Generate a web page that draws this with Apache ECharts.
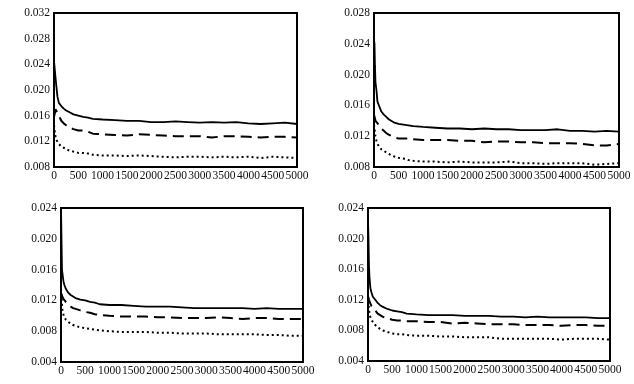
<!DOCTYPE html>
<html><head><meta charset="utf-8">
<script src="https://cdn.jsdelivr.net/npm/echarts@6/dist/echarts.min.js"></script>
<style>html,body{margin:0;padding:0;background:#fff}#c{width:634px;height:384px}</style>
</head><body><div id="c"></div>
<script>
const xs = [0,10,20,30,50,70,100,150,200,250,300,400,500,600,700,800,1000,1250,1500,1750,2000,2250,2500,2750,3000,3250,3500,3750,4000,4250,4500,4750,5000];
const xTicks = [0,500,1000,1500,2000,2500,3000,3500,4000,4500,5000];

const p1Solid  = [0.0245,0.0237,0.0235,0.0220,0.0205,0.0190,0.0180,0.0175,0.0171,0.0168,0.0166,0.0162,0.0160,0.0158,0.0157,0.0155,0.0154,0.0153,0.0152,0.0152,0.0150,0.0150,0.0151,0.0150,0.0149,0.0150,0.0149,0.0150,0.0148,0.0147,0.0148,0.0149,0.0147];
const p1Dashed = [0.0158,0.0160,0.0165,0.0170,0.0172,0.0165,0.0160,0.0152,0.0148,0.0145,0.0142,0.0139,0.0137,0.0137,0.0135,0.0132,0.0131,0.0130,0.0129,0.0131,0.0130,0.0129,0.0128,0.0128,0.0128,0.0126,0.0128,0.0128,0.0127,0.0126,0.0127,0.0127,0.0126];
const p1Dotted = [0.0145,0.0140,0.0133,0.0128,0.0122,0.0119,0.0116,0.0112,0.0110,0.0108,0.0106,0.0104,0.0102,0.0102,0.0101,0.0099,0.0098,0.0098,0.0097,0.0098,0.0097,0.0096,0.0095,0.0096,0.0096,0.0095,0.0096,0.0095,0.0096,0.0094,0.0096,0.0095,0.0094];

const p2Solid  = [0.0245,0.0240,0.0210,0.0190,0.0180,0.0165,0.0160,0.0152,0.0148,0.0145,0.0142,0.0138,0.0136,0.0135,0.0134,0.0133,0.0132,0.0131,0.0130,0.0130,0.0129,0.0130,0.0129,0.0129,0.0128,0.0128,0.0128,0.0129,0.0127,0.0127,0.0126,0.0127,0.0126];
const p2Dashed = [0.0148,0.0146,0.0143,0.0140,0.0138,0.0137,0.0134,0.0130,0.0127,0.0124,0.0122,0.0119,0.0117,0.0117,0.0117,0.0116,0.0115,0.0115,0.0115,0.0114,0.0114,0.0112,0.0113,0.0113,0.0112,0.0112,0.0111,0.0111,0.0111,0.0110,0.0108,0.0108,0.0110];
const p2Dotted = [0.0135,0.0130,0.0125,0.0120,0.0114,0.0110,0.0107,0.0103,0.0101,0.0099,0.0097,0.0094,0.0092,0.0091,0.0089,0.0088,0.0087,0.0087,0.0086,0.0087,0.0086,0.0086,0.0086,0.0087,0.0085,0.0085,0.0084,0.0085,0.0085,0.0085,0.0083,0.0084,0.0085];

const p3Solid  = [0.0240,0.0200,0.0160,0.0155,0.0145,0.0140,0.0135,0.0130,0.0127,0.0125,0.0123,0.0121,0.0120,0.0118,0.0117,0.0115,0.0114,0.0114,0.0113,0.0112,0.0112,0.0112,0.0111,0.0110,0.0110,0.0110,0.0110,0.0110,0.0109,0.0110,0.0109,0.0109,0.0109];
const p3Dashed = [0.0130,0.0128,0.0126,0.0125,0.0122,0.0120,0.0118,0.0115,0.0112,0.0110,0.0109,0.0107,0.0105,0.0104,0.0102,0.0101,0.0100,0.0099,0.0099,0.0099,0.0098,0.0098,0.0097,0.0097,0.0097,0.0098,0.0097,0.0096,0.0097,0.0097,0.0096,0.0096,0.0096];
const p3Dotted = [0.0135,0.0125,0.0115,0.0108,0.0102,0.0098,0.0095,0.0092,0.0090,0.0088,0.0087,0.0085,0.0084,0.0083,0.0082,0.0081,0.0080,0.0079,0.0079,0.0079,0.0078,0.0078,0.0077,0.0077,0.0077,0.0076,0.0076,0.0076,0.0076,0.0075,0.0075,0.0074,0.0074];

const p4Solid  = [0.0225,0.0200,0.0165,0.0150,0.0135,0.0130,0.0124,0.0120,0.0116,0.0113,0.0111,0.0108,0.0106,0.0105,0.0104,0.0102,0.0101,0.0100,0.0100,0.0100,0.0099,0.0099,0.0099,0.0098,0.0098,0.0097,0.0098,0.0097,0.0097,0.0097,0.0097,0.0096,0.0096];
const p4Dashed = [0.0125,0.0123,0.0120,0.0118,0.0115,0.0112,0.0110,0.0106,0.0102,0.0100,0.0098,0.0096,0.0094,0.0093,0.0093,0.0092,0.0092,0.0091,0.0091,0.0089,0.0090,0.0089,0.0088,0.0088,0.0088,0.0087,0.0087,0.0087,0.0086,0.0087,0.0087,0.0086,0.0086];
const p4Dotted = [0.0125,0.0115,0.0108,0.0102,0.0097,0.0094,0.0091,0.0087,0.0084,0.0082,0.0080,0.0078,0.0076,0.0075,0.0075,0.0074,0.0073,0.0073,0.0072,0.0072,0.0071,0.0071,0.0071,0.0069,0.0069,0.0069,0.0069,0.0069,0.0068,0.0069,0.0069,0.0069,0.0068];

const yRanges = [[0.008,0.032],[0.008,0.028],[0.004,0.024],[0.004,0.024]];
const panels = [[p1Solid,p1Dashed,p1Dotted],[p2Solid,p2Dashed,p2Dotted],[p3Solid,p3Dashed,p3Dotted],[p4Solid,p4Dashed,p4Dotted]];

const gridPos = [
  {left:54, top:13, width:243, height:154},
  {left:374, top:13, width:245, height:154},
  {left:61, top:208, width:242, height:154},
  {left:368, top:208, width:242, height:153}
];
const font = {fontFamily:'Liberation Serif', fontSize:11.5, color:'#111'};
const styles = [{type:'solid', width:1.8}, {type:[11,6], width:2}, {type:[2,3], width:2}];

const grid = gridPos.map(g => Object.assign({show:true, borderColor:'#000', borderWidth:2, backgroundColor:'#fff'}, g));
const xAxis = gridPos.map((g,i) => ({type:'value', gridIndex:i, min:0, max:5000, interval:500,
  axisLine:{show:false}, axisTick:{show:false}, splitLine:{show:false},
  axisLabel:Object.assign({margin:3, showMinLabel:true, showMaxLabel:true, formatter:v => String(v)}, font)}));
const yAxis = yRanges.map((r,i) => ({type:'value', gridIndex:i, min:r[0], max:r[1], interval:0.004,
  axisLine:{show:false}, axisTick:{show:false}, splitLine:{show:false},
  axisLabel:Object.assign({margin:4, formatter:v => v.toFixed(3)}, font)}));
const series = [];
panels.forEach((p,i) => p.forEach((vals,k) => {
  series.push({type:'line', xAxisIndex:i, yAxisIndex:i, showSymbol:false, symbol:'none', animation:false,
    data: xs.map((x,j) => [x, vals[j]]),
    lineStyle:{color:'#000', width:styles[k].width, type:styles[k].type}});
}));
const chart = echarts.init(document.getElementById('c'), null, {renderer:'canvas'});
chart.setOption({animation:false, grid, xAxis, yAxis, series});
</script></body></html>
